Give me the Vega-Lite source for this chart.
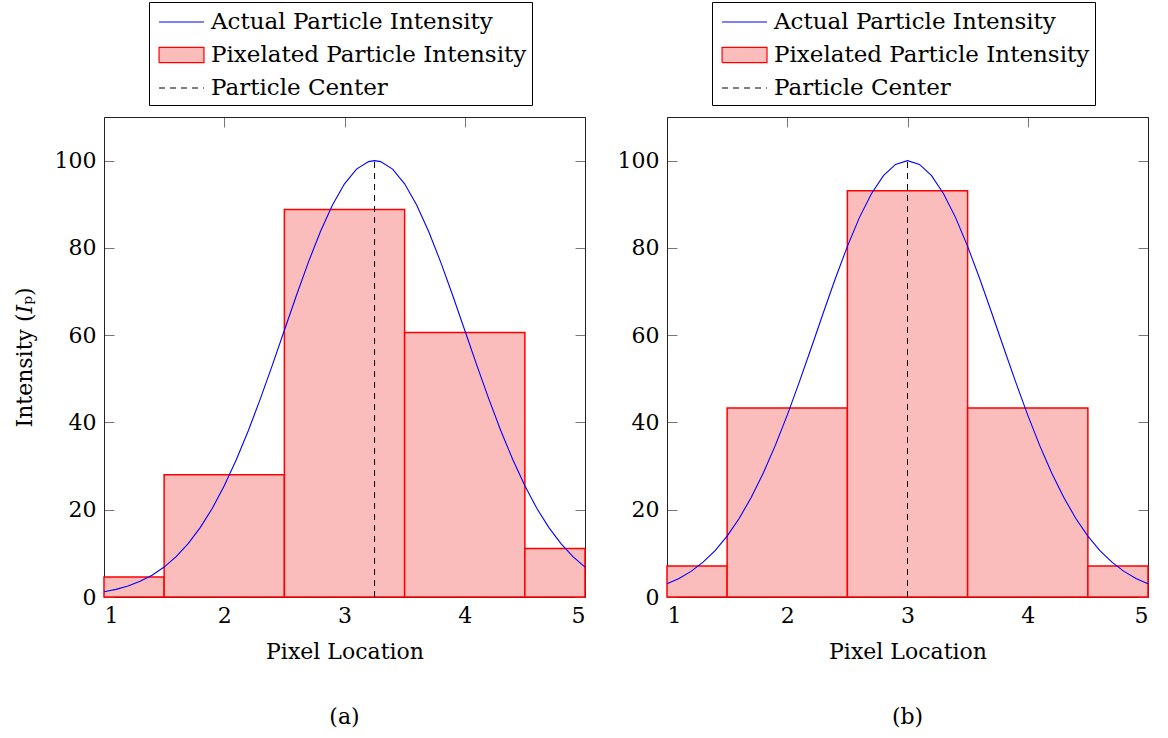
{
  "$schema": "https://vega.github.io/schema/vega-lite/v6.json",
  "background": "white",
  "padding": {"left": 13, "top": 1, "right": 5, "bottom": 5},
  "datasets": {
    "barsA": [
      {"x0": 1, "x1": 1.5, "v": 4.6},
      {"x0": 1.5, "x1": 2.5, "v": 28},
      {"x0": 2.5, "x1": 3.5, "v": 88.8},
      {"x0": 3.5, "x1": 4.5, "v": 60.6},
      {"x0": 4.5, "x1": 5, "v": 11.1}
    ],
    "barsB": [
      {"x0": 1, "x1": 1.5, "v": 7.1},
      {"x0": 1.5, "x1": 2.5, "v": 43.3},
      {"x0": 2.5, "x1": 3.5, "v": 93.1},
      {"x0": 3.5, "x1": 4.5, "v": 43.3},
      {"x0": 4.5, "x1": 5, "v": 7.1}
    ],
    "curveA": [
      {"x": 1.0, "y": 1.19}, {"x": 1.1, "y": 1.75}, {"x": 1.2, "y": 2.53}, {"x": 1.3, "y": 3.59},
      {"x": 1.4, "y": 5.0}, {"x": 1.5, "y": 6.86}, {"x": 1.6, "y": 9.24}, {"x": 1.7, "y": 12.22},
      {"x": 1.8, "y": 15.89}, {"x": 1.9, "y": 20.3}, {"x": 2.0, "y": 25.48}, {"x": 2.1, "y": 31.44},
      {"x": 2.2, "y": 38.11}, {"x": 2.3, "y": 45.4}, {"x": 2.4, "y": 53.14}, {"x": 2.5, "y": 61.13},
      {"x": 2.6, "y": 69.1}, {"x": 2.7, "y": 76.75}, {"x": 2.8, "y": 83.76}, {"x": 2.9, "y": 89.84},
      {"x": 3.0, "y": 94.68}, {"x": 3.1, "y": 98.05}, {"x": 3.2, "y": 99.78}, {"x": 3.25, "y": 100},
      {"x": 3.3, "y": 99.78}, {"x": 3.4, "y": 98.05}, {"x": 3.5, "y": 94.68}, {"x": 3.6, "y": 89.84},
      {"x": 3.7, "y": 83.76}, {"x": 3.8, "y": 76.75}, {"x": 3.9, "y": 69.1}, {"x": 4.0, "y": 61.13},
      {"x": 4.1, "y": 53.14}, {"x": 4.2, "y": 45.4}, {"x": 4.3, "y": 38.11}, {"x": 4.4, "y": 31.44},
      {"x": 4.5, "y": 25.48}, {"x": 4.6, "y": 20.3}, {"x": 4.7, "y": 15.89}, {"x": 4.8, "y": 12.22},
      {"x": 4.9, "y": 9.24}, {"x": 5.0, "y": 6.86}
    ],
    "curveB": [
      {"x": 1.0, "y": 3.02}, {"x": 1.1, "y": 4.25}, {"x": 1.2, "y": 5.87}, {"x": 1.3, "y": 7.98},
      {"x": 1.4, "y": 10.65}, {"x": 1.5, "y": 13.96}, {"x": 1.6, "y": 17.99}, {"x": 1.7, "y": 22.79},
      {"x": 1.8, "y": 28.37}, {"x": 1.9, "y": 34.69}, {"x": 2.0, "y": 41.69}, {"x": 2.1, "y": 49.23},
      {"x": 2.2, "y": 57.12}, {"x": 2.3, "y": 65.13}, {"x": 2.4, "y": 72.98}, {"x": 2.5, "y": 80.35},
      {"x": 2.6, "y": 86.94}, {"x": 2.7, "y": 92.43}, {"x": 2.8, "y": 96.56}, {"x": 2.9, "y": 99.13},
      {"x": 3.0, "y": 100}, {"x": 3.1, "y": 99.13}, {"x": 3.2, "y": 96.56}, {"x": 3.3, "y": 92.43},
      {"x": 3.4, "y": 86.94}, {"x": 3.5, "y": 80.35}, {"x": 3.6, "y": 72.98}, {"x": 3.7, "y": 65.13},
      {"x": 3.8, "y": 57.12}, {"x": 3.9, "y": 49.23}, {"x": 4.0, "y": 41.69}, {"x": 4.1, "y": 34.69},
      {"x": 4.2, "y": 28.37}, {"x": 4.3, "y": 22.79}, {"x": 4.4, "y": 17.99}, {"x": 4.5, "y": 13.96},
      {"x": 4.6, "y": 10.65}, {"x": 4.7, "y": 7.98}, {"x": 4.8, "y": 5.87}, {"x": 4.9, "y": 4.25},
      {"x": 5.0, "y": 3.02}
    ],
    "centerA": [{"x": 3.25, "y0": 0, "y1": 100}],
    "centerB": [{"x": 3.0, "y0": 0, "y1": 100}]
  },
  "hconcat": [
    {
      "width": 481,
      "height": 480,
      "title": {"text": "(a)", "orient": "bottom", "offset": 45},
      "layer": [
        {
          "data": {"name": "barsA"},
          "mark": {"type": "rect", "fill": "#fbbcbc", "strokeWidth": 1.5},
          "encoding": {
            "x": {"field": "x0", "type": "quantitative", "scale": {"domain": [1, 5], "nice": false},
                  "axis": {"orient": "bottom", "values": [1, 2, 3, 4, 5], "title": "Pixel Location"}},
            "x2": {"field": "x1"},
            "y": {"field": "v", "type": "quantitative", "scale": {"domain": [0, 110], "nice": false},
                  "axis": {"orient": "left", "values": [0, 20, 40, 60, 80, 100], "title": "Intensity (𝐼ₚ)", "titlePadding": 18}},
            "y2": {"datum": 0},
            "stroke": {"datum": "Pixelated Particle Intensity", "type": "nominal",
              "scale": {"domain": ["Actual Particle Intensity", "Pixelated Particle Intensity", "Particle Center"], "range": ["#0000ff", "#ff0000", "#000000"]},
              "legend": {
                "title": null, "orient": "none", "legendX": 45, "legendY": -115,
                "strokeColor": "black", "fillColor": "white", "padding": 5,
                "symbolSize": 784, "symbolStrokeWidth": 1.2, "rowPadding": 6, "labelOffset": 27, "labelLimit": 0,
                "encode": {"symbols": {"update": {
                  "shape": {"signal": "datum.value === 'Pixelated Particle Intensity' ? 'M-0.71,-0.54H2.5V0.54H-0.71Z' : 'M-0.71,0H2.5'"},
                  "fill": {"signal": "datum.value === 'Pixelated Particle Intensity' ? '#fbbcbc' : 'transparent'"},
                  "strokeDash": {"signal": "datum.value === 'Particle Center' ? [6, 5] : [1, 0]"}
                }}}
              }}
          }
        },
        {
          "data": {"name": "curveA"},
          "mark": {"type": "line", "strokeWidth": 1.1},
          "encoding": {
            "x": {"field": "x", "type": "quantitative", "scale": {"domain": [1, 5], "nice": false}, "axis": null},
            "y": {"field": "y", "type": "quantitative", "scale": {"domain": [0, 110], "nice": false}, "axis": null},
            "stroke": {"datum": "Actual Particle Intensity", "type": "nominal",
              "legend": {
                "title": null, "orient": "none", "legendX": 45, "legendY": -115,
                "strokeColor": "black", "fillColor": "white", "padding": 5,
                "symbolSize": 784, "symbolStrokeWidth": 1.2, "rowPadding": 6, "labelOffset": 27, "labelLimit": 0,
                "encode": {"symbols": {"update": {
                  "shape": {"signal": "datum.value === 'Pixelated Particle Intensity' ? 'M-0.71,-0.54H2.5V0.54H-0.71Z' : 'M-0.71,0H2.5'"},
                  "fill": {"signal": "datum.value === 'Pixelated Particle Intensity' ? '#fbbcbc' : 'transparent'"},
                  "strokeDash": {"signal": "datum.value === 'Particle Center' ? [6, 5] : [1, 0]"}
                }}}
              }}
          }
        },
        {
          "data": {"name": "centerA"},
          "mark": {"type": "rule", "strokeDash": [6, 5], "strokeWidth": 1},
          "encoding": {
            "x": {"field": "x", "type": "quantitative", "scale": {"domain": [1, 5], "nice": false}, "axis": null},
            "y": {"field": "y0", "type": "quantitative", "scale": {"domain": [0, 110], "nice": false}, "axis": null},
            "y2": {"field": "y1"},
            "stroke": {"datum": "Particle Center", "type": "nominal",
              "legend": {
                "title": null, "orient": "none", "legendX": 45, "legendY": -115,
                "strokeColor": "black", "fillColor": "white", "padding": 5,
                "symbolSize": 784, "symbolStrokeWidth": 1.2, "rowPadding": 6, "labelOffset": 27, "labelLimit": 0,
                "encode": {"symbols": {"update": {
                  "shape": {"signal": "datum.value === 'Pixelated Particle Intensity' ? 'M-0.71,-0.54H2.5V0.54H-0.71Z' : 'M-0.71,0H2.5'"},
                  "fill": {"signal": "datum.value === 'Pixelated Particle Intensity' ? '#fbbcbc' : 'transparent'"},
                  "strokeDash": {"signal": "datum.value === 'Particle Center' ? [6, 5] : [1, 0]"}
                }}}
              }}
          }
        },
        {
          "data": {"name": "centerA"},
          "mark": {"type": "point", "opacity": 0},
          "encoding": {
            "x": {"field": "x", "type": "quantitative", "scale": {"domain": [1, 5], "nice": false},
                  "axis": {"orient": "top", "values": [1, 2, 3, 4, 5], "labels": false, "title": null}},
            "y": {"field": "y0", "type": "quantitative", "scale": {"domain": [0, 110], "nice": false},
                  "axis": {"orient": "right", "values": [0, 20, 40, 60, 80, 100], "labels": false, "title": null}}
          }
        }
      ],
      "resolve": {"axis": {"x": "independent", "y": "independent"}}
    },
    {
      "width": 481,
      "height": 480,
      "title": {"text": "(b)", "orient": "bottom", "offset": 45},
      "layer": [
        {
          "data": {"name": "barsB"},
          "mark": {"type": "rect", "fill": "#fbbcbc", "strokeWidth": 1.5},
          "encoding": {
            "x": {"field": "x0", "type": "quantitative", "scale": {"domain": [1, 5], "nice": false},
                  "axis": {"orient": "bottom", "values": [1, 2, 3, 4, 5], "title": "Pixel Location"}},
            "x2": {"field": "x1"},
            "y": {"field": "v", "type": "quantitative", "scale": {"domain": [0, 110], "nice": false},
                  "axis": {"orient": "left", "values": [0, 20, 40, 60, 80, 100], "title": null}},
            "y2": {"datum": 0},
            "stroke": {"datum": "Pixelated Particle Intensity", "type": "nominal",
              "scale": {"domain": ["Actual Particle Intensity", "Pixelated Particle Intensity", "Particle Center"], "range": ["#0000ff", "#ff0000", "#000000"]},
              "legend": {
                "title": null, "orient": "none", "legendX": 45, "legendY": -115,
                "strokeColor": "black", "fillColor": "white", "padding": 5,
                "symbolSize": 784, "symbolStrokeWidth": 1.2, "rowPadding": 6, "labelOffset": 27, "labelLimit": 0,
                "encode": {"symbols": {"update": {
                  "shape": {"signal": "datum.value === 'Pixelated Particle Intensity' ? 'M-0.71,-0.54H2.5V0.54H-0.71Z' : 'M-0.71,0H2.5'"},
                  "fill": {"signal": "datum.value === 'Pixelated Particle Intensity' ? '#fbbcbc' : 'transparent'"},
                  "strokeDash": {"signal": "datum.value === 'Particle Center' ? [6, 5] : [1, 0]"}
                }}}
              }}
          }
        },
        {
          "data": {"name": "curveB"},
          "mark": {"type": "line", "strokeWidth": 1.1},
          "encoding": {
            "x": {"field": "x", "type": "quantitative", "scale": {"domain": [1, 5], "nice": false}, "axis": null},
            "y": {"field": "y", "type": "quantitative", "scale": {"domain": [0, 110], "nice": false}, "axis": null},
            "stroke": {"datum": "Actual Particle Intensity", "type": "nominal",
              "legend": {
                "title": null, "orient": "none", "legendX": 45, "legendY": -115,
                "strokeColor": "black", "fillColor": "white", "padding": 5,
                "symbolSize": 784, "symbolStrokeWidth": 1.2, "rowPadding": 6, "labelOffset": 27, "labelLimit": 0,
                "encode": {"symbols": {"update": {
                  "shape": {"signal": "datum.value === 'Pixelated Particle Intensity' ? 'M-0.71,-0.54H2.5V0.54H-0.71Z' : 'M-0.71,0H2.5'"},
                  "fill": {"signal": "datum.value === 'Pixelated Particle Intensity' ? '#fbbcbc' : 'transparent'"},
                  "strokeDash": {"signal": "datum.value === 'Particle Center' ? [6, 5] : [1, 0]"}
                }}}
              }}
          }
        },
        {
          "data": {"name": "centerB"},
          "mark": {"type": "rule", "strokeDash": [6, 5], "strokeWidth": 1},
          "encoding": {
            "x": {"field": "x", "type": "quantitative", "scale": {"domain": [1, 5], "nice": false}, "axis": null},
            "y": {"field": "y0", "type": "quantitative", "scale": {"domain": [0, 110], "nice": false}, "axis": null},
            "y2": {"field": "y1"},
            "stroke": {"datum": "Particle Center", "type": "nominal",
              "legend": {
                "title": null, "orient": "none", "legendX": 45, "legendY": -115,
                "strokeColor": "black", "fillColor": "white", "padding": 5,
                "symbolSize": 784, "symbolStrokeWidth": 1.2, "rowPadding": 6, "labelOffset": 27, "labelLimit": 0,
                "encode": {"symbols": {"update": {
                  "shape": {"signal": "datum.value === 'Pixelated Particle Intensity' ? 'M-0.71,-0.54H2.5V0.54H-0.71Z' : 'M-0.71,0H2.5'"},
                  "fill": {"signal": "datum.value === 'Pixelated Particle Intensity' ? '#fbbcbc' : 'transparent'"},
                  "strokeDash": {"signal": "datum.value === 'Particle Center' ? [6, 5] : [1, 0]"}
                }}}
              }}
          }
        },
        {
          "data": {"name": "centerB"},
          "mark": {"type": "point", "opacity": 0},
          "encoding": {
            "x": {"field": "x", "type": "quantitative", "scale": {"domain": [1, 5], "nice": false},
                  "axis": {"orient": "top", "values": [1, 2, 3, 4, 5], "labels": false, "title": null}},
            "y": {"field": "y0", "type": "quantitative", "scale": {"domain": [0, 110], "nice": false},
                  "axis": {"orient": "right", "values": [0, 20, 40, 60, 80, 100], "labels": false, "title": null}}
          }
        }
      ],
      "resolve": {"axis": {"x": "independent", "y": "independent"}}
    }
  ],
  "spacing": 29,
  "resolve": {"scale": {"stroke": "independent"}, "legend": {"stroke": "independent"}},
  "config": {
    "font": "DejaVu Serif",
    "view": {"stroke": null},
    "title": {"fontSize": 22, "fontWeight": "normal", "color": "black", "font": "DejaVu Serif"},
    "legend": {"labelFontSize": 23, "labelFont": "DejaVu Serif", "labelColor": "black"},
    "axis": {
      "grid": false,
      "domainColor": "#222",
      "domainWidth": 1,
      "tickColor": "#777",
      "tickSize": -10,
      "tickWidth": 1,
      "labelFontSize": 22,
      "labelColor": "black",
      "labelFont": "DejaVu Serif",
      "titleFontSize": 22,
      "titleFont": "DejaVu Serif",
      "titleFontWeight": "normal",
      "titleColor": "black",
      "labelPadding": 18,
      "titlePadding": 15
    }
  }
}
